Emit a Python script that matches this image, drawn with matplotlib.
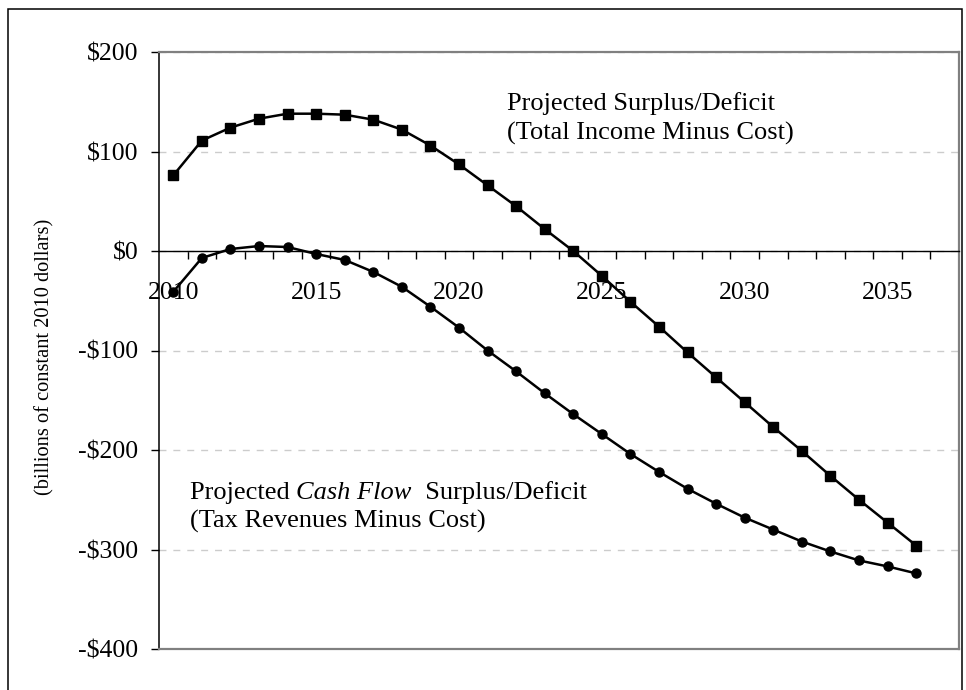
import matplotlib
matplotlib.use("Agg")
from matplotlib import pyplot as plt
from matplotlib.patches import Rectangle
from matplotlib.ticker import FixedLocator, FixedFormatter, NullFormatter

plt.rcParams['font.family'] = ['Liberation Serif', 'DejaVu Serif']

# Values (billions of constant 2010 dollars)
years = list(range(2010, 2037))
total_income_minus_cost = [76, 111, 124, 133, 138, 138, 137, 132, 122, 106,
                           87, 66, 45, 22, 0, -25, -51, -76, -102, -127,
                           -152, -177, -201, -226, -250, -273, -296]
tax_revenue_minus_cost = [-41, -7, 2, 5, 4, -3, -9, -21, -36, -56,
                          -77, -100, -121, -143, -164, -184, -204, -222, -239, -254,
                          -268, -280, -292, -302, -311, -317, -324]
y_ticks = [-400, -300, -200, -100, 0, 100, 200]
y_labels = ['-$400', '-$300', '-$200', '-$100', '$0', '$100', '$200']
x_label_years = [2010, 2015, 2020, 2025, 2030, 2035]

fig = plt.figure(figsize=(9.66, 6.9), dpi=100)
ax = fig.add_axes([159 / 966, 1 - 649 / 690, 800 / 966, 597 / 690])

# outer frame round the whole chart
fig.patches.append(Rectangle((8 / 966, -0.05), 954 / 966, 1.05 - 9 / 690,
                             transform=fig.transFigure, fill=False,
                             edgecolor='black', linewidth=1.1))

ax.plot(years, total_income_minus_cost, color='black', lw=1.8,
        marker='s', markersize=7, zorder=4, clip_on=False)
ax.plot(years, tax_revenue_minus_cost, color='black', lw=1.8,
        marker='o', markersize=6.5, zorder=4, clip_on=False)

ax.set_xlim(2009.5, 2037.5)
ax.set_ylim(-400, 200)

# y axis
ax.set_yticks(y_ticks)
ax.set_yticklabels(y_labels)
ax.tick_params(axis='y', direction='out', length=5.8, width=1, pad=9,
               labelsize=18.5, colors='black')
ax.set_ylabel('(billions of constant 2010 dollars)', fontsize=14.7)
ax.yaxis.set_label_coords(-0.131, 0.49)

# x axis crosses at zero, category style ticks between years
ax.spines['bottom'].set_position(('data', 0))
ax.spines['bottom'].set_linewidth(1)
ax.spines['left'].set_linewidth(1.1)
ax.xaxis.set_major_locator(FixedLocator([y + 0.5 for y in years]))
ax.xaxis.set_major_formatter(NullFormatter())
ax.xaxis.set_minor_locator(FixedLocator(x_label_years))
ax.xaxis.set_minor_formatter(FixedFormatter([str(y) for y in x_label_years]))
ax.tick_params(axis='x', which='major', direction='out', length=5.8, width=1)
ax.tick_params(axis='x', which='minor', length=0, pad=22, labelsize=18.5)

# gray plot border on top, right and bottom
for side in ['top', 'right']:
    ax.spines[side].set_color('#808080')
    ax.spines[side].set_linewidth(1.6)
ax.plot([0, 1], [0, 0], transform=ax.transAxes, color='#808080', lw=1.6,
        clip_on=False, zorder=5)

ax.yaxis.grid(True, color='#cccccc', lw=1, dashes=(5, 5))
ax.set_axisbelow(True)

# series labels
ax.text(2021.68, 141.5, 'Projected Surplus/Deficit', fontsize=19, va='baseline')
ax.text(2021.68, 112, '(Total Income Minus Cost)', fontsize=19, va='baseline')

t1 = ax.text(2010.58, -249, 'Projected ', fontsize=19, va='baseline')
t2 = ax.annotate('Cash Flow', xy=(1, 0), xycoords=t1, va='bottom',
                 fontsize=19, fontstyle='italic')
ax.annotate('  Surplus/Deficit', xy=(1, 0), xycoords=t2, va='bottom', fontsize=19)
ax.text(2010.58, -278, '(Tax Revenues Minus Cost)', fontsize=19, va='baseline')

fig.savefig('out.png', dpi=100)
